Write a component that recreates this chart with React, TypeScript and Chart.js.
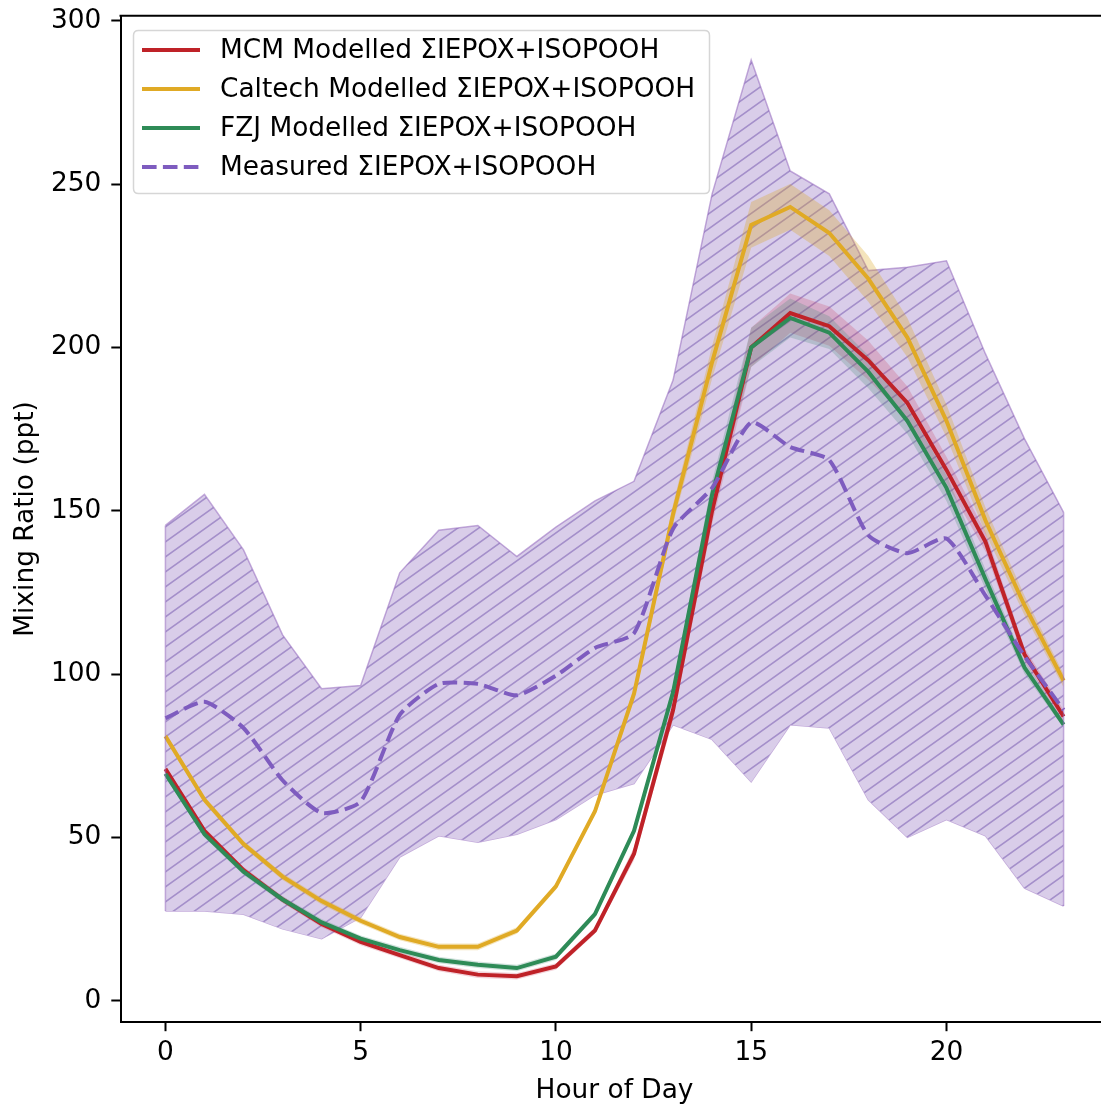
import React, { useEffect, useRef } from "react";
import { Chart, registerables } from "chart.js";

Chart.register(...registerables);

const HOURS = [0, 1, 2, 3, 4, 5, 6, 7, 8, 9, 10, 11, 12, 13, 14, 15, 16, 17, 18, 19, 20, 21, 22, 23];

const MEASURED = [86.5, 91.5, 83.5, 67.5, 57.5, 61, 87.5, 97, 97, 93.5, 99.5, 108, 112.5, 144.5, 157, 177, 169.5, 165.5, 142.5, 137, 141.5, 124, 105.5, 89];
const MEASURED_LOW = [27.5, 27.5, 26.5, 22, 19, 25.5, 44, 50.5, 48.5, 51, 55.5, 63, 66.5, 84.5, 80, 67, 84.5, 83.5, 61.5, 50, 55.5, 50.5, 34.5, 29];
const MEASURED_HIGH = [145.5, 155, 138, 112, 95.5, 96.5, 131, 144, 145.5, 136, 145, 153, 159, 190, 247, 288, 254, 247, 223.5, 224.5, 226.5, 198, 172, 149.5];

const MCM = [71, 52, 40, 31, 23.5, 18, 14, 10, 8, 7.5, 10.5, 21.5, 45, 89, 150, 200, 210.5, 206.5, 196, 183, 162.5, 140.5, 106, 87];
const MCM_SPREAD = [1, 1, 1, 1, 1, 1, 1, 1, 1, 1, 1, 1, 2, 3, 4, 6, 6, 6, 6, 5, 4, 3, 2, 2];
const CALTECH = [81, 61.5, 48, 38, 30.5, 24.5, 19.5, 16.5, 16.5, 21.5, 35, 58, 94, 149, 195.5, 237.5, 243, 235, 221, 203, 177.5, 147, 121, 98];
const CALTECH_SPREAD = [1, 1, 1, 1, 1, 1, 1, 1, 1, 1, 1, 1, 2, 3, 5, 7, 7, 7, 7, 6, 5, 4, 3, 2];
const FZJ = [69.5, 51, 39.5, 31, 24, 19, 15.5, 12.5, 11, 10, 13.5, 26.5, 52, 94.5, 155, 200, 209, 204.5, 192.5, 177.5, 157, 129, 102, 84.5];
const FZJ_SPREAD = [1, 1, 1, 1, 1, 1, 1, 1, 1, 1, 1, 1, 1, 2, 4, 6, 6, 5, 5, 4, 4, 3, 2, 1];

const X_TICKS = [0, 5, 10, 15, 20];
const Y_TICKS = [0, 50, 100, 150, 200, 250, 300];

const LEGEND_LABELS = [
  "MCM Modelled ΣIEPOX+ISOPOOH",
  "Caltech Modelled ΣIEPOX+ISOPOOH",
  "FZJ Modelled ΣIEPOX+ISOPOOH",
  "Measured ΣIEPOX+ISOPOOH",
];

const C_MCM = "#bf2228";
const C_CAL = "#e0aa25";
const C_FZJ = "#2e8b57";
const C_MEAS = "#7e5cbf";

const FONT = "'DejaVu Sans', sans-serif";
const FS = 26.4;

const pts = (arr: number[]) => HOURS.map((h, i) => ({ x: h, y: arr[i] }));
const shift = (arr: number[], d: number[], sign: number) => arr.map((v, i) => v + sign * d[i]);

function makeHatch(): CanvasPattern | string {
  const w = 21;
  const h = 15;
  const c = document.createElement("canvas");
  c.width = w;
  c.height = h;
  const g = c.getContext("2d");
  if (!g) return "#d9cce9";
  g.fillStyle = "#d9cde9";
  g.fillRect(0, 0, w, h);
  g.strokeStyle = "#a48fca";
  g.lineWidth = 1.6;
  g.beginPath();
  const seg = (k: number) => {
    // line x/w + y/h = k, extended beyond tile
    g.moveTo(-w * 0.2 + 0, h * (k + 0.2));
    g.lineTo(w * (k + 0.2), -h * 0.2);
  };
  seg(0);
  seg(1);
  seg(2);
  g.stroke();
  const p = g.createPattern(c, "repeat");
  return p || "#d9cce9";
}

const framePlugin = {
  id: "frameAndLegend",
  afterDatasetsDraw(chart: any) {
    const { ctx, chartArea, scales } = chart;
    ctx.save();
    // edges of the measured range at first and last hour
    ctx.strokeStyle = "rgba(148,103,189,0.55)";
    ctx.lineWidth = 1.5;
    const ends = [0, HOURS.length - 1];
    ends.forEach((i) => {
      const x = scales.x.getPixelForValue(HOURS[i]);
      ctx.beginPath();
      ctx.moveTo(x, scales.y.getPixelForValue(MEASURED_LOW[i]));
      ctx.lineTo(x, scales.y.getPixelForValue(MEASURED_HIGH[i]));
      ctx.stroke();
    });
    // top spine
    ctx.strokeStyle = "#000";
    ctx.lineWidth = 2;
    ctx.beginPath();
    ctx.moveTo(chartArea.left - 1, chartArea.top);
    ctx.lineTo(chartArea.right + 1, chartArea.top);
    ctx.stroke();

    // legend
    const bx = 133.5, by = 30.5, bw = 576, bh = 163, r = 5;
    ctx.beginPath();
    ctx.moveTo(bx + r, by);
    ctx.lineTo(bx + bw - r, by);
    ctx.quadraticCurveTo(bx + bw, by, bx + bw, by + r);
    ctx.lineTo(bx + bw, by + bh - r);
    ctx.quadraticCurveTo(bx + bw, by + bh, bx + bw - r, by + bh);
    ctx.lineTo(bx + r, by + bh);
    ctx.quadraticCurveTo(bx, by + bh, bx, by + bh - r);
    ctx.lineTo(bx, by + r);
    ctx.quadraticCurveTo(bx, by, bx + r, by);
    ctx.closePath();
    ctx.fillStyle = "rgba(255,255,255,0.8)";
    ctx.fill();
    ctx.strokeStyle = "#d6d6d6";
    ctx.lineWidth = 1.5;
    ctx.stroke();

    const colors = [C_MCM, C_CAL, C_FZJ, C_MEAS];
    const rows = [50, 89, 128, 167];
    LEGEND_LABELS.forEach((lab, i) => {
      ctx.strokeStyle = colors[i];
      ctx.lineWidth = 4;
      ctx.setLineDash(i === 3 ? [14.6, 6.3] : []);
      ctx.beginPath();
      ctx.moveTo(142, rows[i]);
      ctx.lineTo(200, rows[i]);
      ctx.stroke();
      ctx.setLineDash([]);
      ctx.fillStyle = "#000";
      ctx.font = `${FS}px ${FONT}`;
      ctx.textBaseline = "middle";
      ctx.textAlign = "left";
      ctx.fillText(lab, 220, rows[i] + 1);
    });
    ctx.restore();
  },
};

export default function App() {
  const ref = useRef<HTMLCanvasElement | null>(null);

  useEffect(() => {
    document.body.style.margin = "0";
    document.body.style.overflow = "hidden";
    document.documentElement.style.overflow = "hidden";
    const canvas = ref.current;
    if (!canvas) return;
    const hatch = makeHatch();

    const band = (vals: number[], spread: number[], color: string, order: number) => [
      {
        data: pts(shift(vals, spread, -1)),
        borderWidth: 0,
        pointRadius: 0,
        fill: false,
        order,
      },
      {
        data: pts(shift(vals, spread, 1)),
        borderWidth: 0,
        pointRadius: 0,
        fill: "-1",
        backgroundColor: color,
        order,
      },
    ];

    const chart = new Chart(canvas, {
      type: "line",
      data: {
        datasets: [
          {
            data: pts(MEASURED_LOW),
            borderColor: "rgba(148,103,189,0.55)",
            borderWidth: 1.5,
            pointRadius: 0,
            fill: false,
            order: 20,
          },
          {
            data: pts(MEASURED_HIGH),
            borderColor: "rgba(148,103,189,0.55)",
            borderWidth: 1.5,
            pointRadius: 0,
            fill: "-1",
            backgroundColor: hatch as any,
            order: 19,
          },
          ...band(MCM, MCM_SPREAD, "rgba(200,50,80,0.22)", 18),
          ...band(CALTECH, CALTECH_SPREAD, "rgba(218,165,32,0.3)", 17),
          ...band(FZJ, FZJ_SPREAD, "rgba(70,140,120,0.25)", 16),
          {
            data: pts(MCM),
            borderColor: C_MCM,
            borderWidth: 4,
            pointRadius: 0,
            fill: false,
            order: 3,
          },
          {
            data: pts(CALTECH),
            borderColor: C_CAL,
            borderWidth: 4,
            pointRadius: 0,
            fill: false,
            order: 2,
          },
          {
            data: pts(FZJ),
            borderColor: C_FZJ,
            borderWidth: 4,
            pointRadius: 0,
            fill: false,
            order: 1,
          },
          {
            data: pts(MEASURED),
            borderColor: C_MEAS,
            borderWidth: 4,
            borderDash: [14.6, 6.3],
            pointRadius: 0,
            fill: false,
            tension: 0.2,
            order: 0,
          },
        ] as any,
      },
      options: {
        animation: false,
        responsive: false,
        devicePixelRatio: 1,
        layout: { padding: { top: 15.8, right: 11.5, left: 0, bottom: 0 } },
        plugins: { legend: { display: false }, tooltip: { enabled: false } },
        scales: {
          x: {
            type: "linear",
            min: -1.15,
            max: 24.15,
            afterBuildTicks: (s: any) => {
              s.ticks = X_TICKS.map((v) => ({ value: v }));
            },
            afterFit: (s: any) => {
              s.height = 86;
            },
            ticks: { font: { family: FONT, size: FS }, color: "#000", padding: 6, maxRotation: 0, autoSkip: false },
            grid: { display: true, drawOnChartArea: false, drawTicks: true, tickLength: 9.2, tickWidth: 2, tickColor: "#000" },
            border: { display: true, color: "#000", width: 2 },
            title: { display: true, text: "Hour of Day", font: { family: FONT, size: FS }, color: "#000", padding: { top: 0, bottom: 1 } },
          },
          y: {
            type: "linear",
            min: -6.5,
            max: 301.5,
            afterBuildTicks: (s: any) => {
              s.ticks = Y_TICKS.map((v) => ({ value: v }));
            },
            afterFit: (s: any) => {
              s.width = 120.5;
            },
            ticks: { font: { family: FONT, size: FS, lineHeight: 0.4 }, color: "#000", padding: 10 },
            grid: { display: true, drawOnChartArea: false, drawTicks: true, tickLength: 9.2, tickWidth: 2, tickColor: "#000" },
            border: { display: true, color: "#000", width: 2 },
            title: { display: true, text: "Mixing Ratio (ppt)", font: { family: FONT, size: FS }, color: "#000", padding: { top: 10, bottom: 0 } },
          },
        },
      } as any,
      plugins: [framePlugin],
    });
    return () => chart.destroy();
  }, []);

  return (
    <div style={{ width: 1120, height: 1108 }}>
      <canvas ref={ref} width={1120} height={1108} style={{ display: "block" }} />
    </div>
  );
}
